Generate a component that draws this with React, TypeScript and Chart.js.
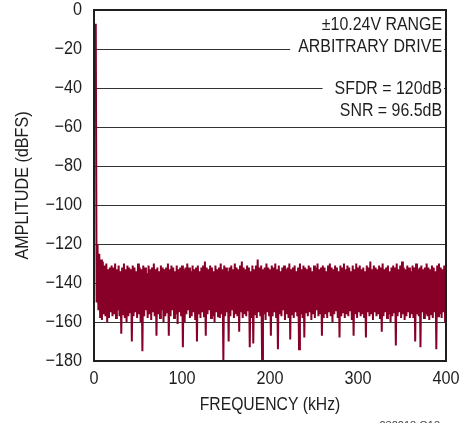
import React, { useEffect, useRef } from "react";
import { Chart, registerables } from "chart.js";

Chart.register(...registerables);

// Spectrum bins: first bin at 2 kHz, 2 kHz spacing (bin 1 is the test tone).
// Each bin is traced as its peak followed by its trough, 1 kHz later.
const FREQ_START_KHZ = 2;
const FREQ_STEP_KHZ = 2;

// Upper envelope of each bin (dBFS)
const binHigh: number[] = [
  -7, -120, -125, -128, -129, -131, -130, -133, -132, -131,
  -132, -130, -133, -131, -134, -132, -130, -133, -131, -132,
  -133, -131, -132, -134, -130, -132, -133, -131, -132, -135,
  -131, -133, -132, -130, -133, -132, -134, -131, -132, -133,
  -132, -130, -133, -131, -132, -134, -131, -133, -132, -131,
  -133, -132, -130, -132, -134, -131, -133, -132, -131, -134,
  -132, -131, -129, -132, -133, -131, -132, -134, -131, -133,
  -132, -130, -133, -131, -132, -134, -132, -131, -133, -130,
  -132, -133, -131, -129, -132, -133, -131, -132, -134, -131,
  -133, -131, -128, -132, -131, -133, -132, -130, -132, -133,
  -131, -132, -130, -133, -131, -134, -132, -131, -133, -132,
  -130, -133, -132, -131, -134, -132, -130, -133, -131, -132,
  -133, -131, -132, -134, -131, -132, -130, -133, -132, -131,
  -132, -134, -131, -130, -132, -133, -131, -132, -134, -131,
  -132, -130, -133, -131, -132, -134, -131, -133, -130, -132,
  -131, -133, -132, -134, -131, -132, -129, -133, -131, -132,
  -133, -131, -132, -130, -133, -132, -131, -134, -132, -131,
  -132, -130, -133, -131, -129, -132, -133, -131, -132, -134,
  -131, -132, -130, -133, -132, -131, -133, -132, -130, -132,
  -133, -131, -132, -134, -131, -130, -132, -133, -131, -132,
];

// Lower envelope of each bin (dBFS)
const binLow: number[] = [
  -150, -154, -158, -159, -156, -157, -160, -158, -155, -157,
  -156, -158, -154, -157, -166, -156, -158, -160, -157, -155,
  -170, -157, -155, -158, -156, -160, -175, -157, -154, -158,
  -156, -159, -155, -157, -167, -156, -158, -154, -160, -157,
  -155, -167, -157, -154, -158, -156, -161, -155, -157, -173,
  -160, -156, -154, -158, -157, -155, -159, -170, -156, -158,
  -155, -157, -167, -156, -154, -158, -157, -160, -155, -157,
  -158, -156, -180, -157, -155, -170, -157, -154, -158, -156,
  -157, -165, -155, -158, -156, -157, -154, -173, -158, -171,
  -156, -158, -155, -157, -180, -156, -159, -155, -157, -167,
  -157, -155, -158, -174, -156, -157, -154, -159, -156, -158,
  -169, -156, -158, -155, -157, -174, -156, -158, -168, -155,
  -157, -155, -159, -156, -158, -154, -157, -156, -167, -158,
  -156, -158, -155, -157, -160, -156, -154, -158, -168, -157,
  -155, -158, -156, -157, -154, -159, -167, -156, -158, -155,
  -157, -156, -158, -168, -155, -157, -156, -159, -155, -157,
  -156, -158, -165, -157, -155, -158, -156, -160, -157, -155,
  -172, -157, -155, -158, -156, -159, -157, -155, -158, -156,
  -158, -170, -156, -157, -173, -155, -158, -156, -157, -159,
  -156, -158, -155, -174, -157, -156, -158, -155, -160, -157,
];

const xTicks = [0, 100, 200, 300, 400];
const yTicks = [0, -20, -40, -60, -80, -100, -120, -140, -160, -180];

const noteLines = [
  { text: "\u00B110.24V RANGE", dB: -7.5, pad: 8 },
  { text: "ARBITRARY DRIVE", dB: -19, pad: 8 },
  { text: "SFDR = 120dB", dB: -40.5, pad: 12 },
  { text: "SNR = 96.5dB", dB: -51.8, pad: 8 },
];
const xTitle = "FREQUENCY (kHz)";
const yTitle = "AMPLITUDE (dBFS)";
const figureId = "232218 G13";

const SANS = '"Liberation Sans", Arial, sans-serif';
const INK = "#1e1e1e";
const RED = "#880028";

function drawText(
  ctx: CanvasRenderingContext2D,
  text: string,
  x: number,
  y: number,
  size: number,
  k: number,
  align: CanvasTextAlign,
  rot = 0
) {
  ctx.save();
  ctx.translate(x, y);
  if (rot) ctx.rotate(rot);
  ctx.scale(k, 1);
  ctx.font = `${size}px ${SANS}`;
  ctx.textAlign = align;
  ctx.textBaseline = "middle";
  ctx.fillText(text, 0, 0);
  ctx.restore();
}

const fmt = (v: number) => (v < 0 ? "\u2212" + Math.abs(v) : String(v));

export default function App() {
  const ref = useRef<HTMLCanvasElement | null>(null);

  useEffect(() => {
    document.body.style.margin = "0";
    const canvas = ref.current;
    if (!canvas) return;

    const trace: { x: number; y: number }[] = [];
    binHigh.forEach((hi, i) => {
      const f = FREQ_START_KHZ + i * FREQ_STEP_KHZ;
      trace.push({ x: f, y: hi });
      trace.push({ x: f + FREQ_STEP_KHZ / 2, y: binLow[i] });
    });

    const overlay = {
      id: "overlay",
      afterDraw(chart: any) {
        const { ctx, chartArea, scales } = chart;
        const ys = scales.y;
        const xs = scales.x;
        ctx.save();
        ctx.fillStyle = INK;

        // notes with white knock-out behind them
        const right = chartArea.right - 4;
        const NK = 0.86;
        for (const n of noteLines) {
          const y = ys.getPixelForValue(n.dB);
          ctx.font = `18.5px ${SANS}`;
          const w = ctx.measureText(n.text).width * NK;
          ctx.fillStyle = "#fff";
          ctx.fillRect(right - w - n.pad, y - 9, w + n.pad + 2, 18);
          ctx.fillStyle = INK;
          drawText(ctx, n.text, right, y, 18.5, NK, "right");
        }

        // frame
        ctx.strokeStyle = INK;
        ctx.lineWidth = 2;
        ctx.strokeRect(
          chartArea.left,
          chartArea.top,
          chartArea.right - chartArea.left,
          chartArea.bottom - chartArea.top
        );

        // tick labels
        ctx.fillStyle = INK;
        for (const v of yTicks) {
          drawText(ctx, fmt(v), chartArea.left - 12, ys.getPixelForValue(v), 18, 0.9, "right");
        }
        for (const v of xTicks) {
          drawText(ctx, fmt(v), xs.getPixelForValue(v), chartArea.bottom + 18, 18, 0.9, "center");
        }

        // axis titles
        drawText(ctx, xTitle, (chartArea.left + chartArea.right) / 2, chartArea.bottom + 44, 18.5, 0.85, "center");
        drawText(ctx, yTitle, 23, (chartArea.top + chartArea.bottom) / 2, 19, 0.85, "center", -Math.PI / 2);

        // figure id (cut off at bottom)
        ctx.font = `11px ${SANS}`;
        ctx.fillStyle = "#444";
        ctx.textAlign = "right";
        ctx.textBaseline = "alphabetic";
        ctx.fillText(figureId, chartArea.right - 6, chart.height + 6);
        ctx.restore();
      },
    };

    const chart = new Chart(canvas, {
      type: "line",
      data: {
        datasets: [
          {
            data: trace as any,
            borderColor: RED,
            backgroundColor: RED,
            borderWidth: 2,
            pointRadius: 0,
            tension: 0,
            fill: false,
            borderJoinStyle: "miter",
          },
        ],
      },
      options: {
        responsive: false,
        animation: false,
        events: [],
        layout: { padding: { top: 10, right: 26, left: 0, bottom: 0 } },
        plugins: { legend: { display: false }, tooltip: { enabled: false } },
        scales: {
          x: {
            type: "linear",
            min: 0,
            max: 400,
            afterFit: (s: any) => {
              s.height = 62;
            },
            afterBuildTicks: (s: any) => {
              s.ticks = xTicks.map((v) => ({ value: v }));
            },
            grid: { display: false, drawTicks: false },
            border: { display: false },
            ticks: { display: false },
          },
          y: {
            min: -180,
            max: 0,
            afterFit: (s: any) => {
              s.width = 94;
            },
            afterBuildTicks: (s: any) => {
              s.ticks = yTicks.map((v) => ({ value: v }));
            },
            grid: { color: "#333", lineWidth: 1, drawTicks: false },
            border: { display: false },
            ticks: { display: false },
          },
        },
      },
      plugins: [overlay],
    });

    return () => chart.destroy();
  }, []);

  return (
    <div style={{ width: 472, height: 423 }}>
      <canvas ref={ref} width={472} height={423} style={{ display: "block" }} />
    </div>
  );
}
